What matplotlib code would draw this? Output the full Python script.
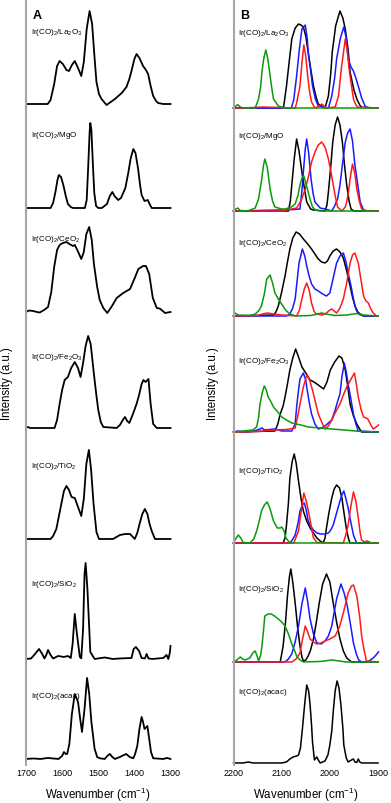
import numpy as np
import matplotlib.pyplot as plt

plt.rcParams['font.family'] = ['Liberation Sans', 'DejaVu Sans']
plt.rcParams['mathtext.default'] = 'regular'

# ---- panel A : (wavenumber, intensity) ----
a_la2o3 = [(1700,0),(1640,0),(1632,4),(1622,20),(1614,38),(1607,43),(1598,40),(1588,34),(1581,33),(1573,39),
           (1565,43),(1556,36),(1547,28),(1540,42),(1532,75),(1524,93),(1517,80),(1511,50),(1505,22),(1498,10),
           (1491,5),(1477,-1),(1454,5),(1435,11),(1422,17),(1414,25),(1408,33),(1400,45),(1394,50),(1386,46),
           (1376,38),(1368,34),(1362,30),(1355,18),(1348,8),(1340,3),(1334,1),(1320,0),(1300,0)]
a_mgo = [(1700,0),(1632,0),(1625,5),(1618,17),(1613,28),(1609,33),(1603,31),(1596,22),(1590,12),(1584,4),
         (1576,1),(1570,0),(1537,0),(1532,8),(1528,40),(1524,75),(1522,85),(1519,78),(1515,45),(1511,15),
         (1506,2),(1500,0),(1490,0),(1476,4),(1468,12),(1461,16),(1455,12),(1445,8),(1437,10),(1425,20),
         (1417,35),(1410,50),(1403,59),(1397,55),(1390,40),(1385,25),(1380,13),(1372,7),(1363,8),(1358,4),
         (1352,0),(1300,0)]
a_ceo2 = [(1700,0),(1692,1.5),(1680,1),(1670,0),(1662,-0.5),(1650,2),(1639,5),(1630,20),(1622,45),(1614,62),
          (1607,67),(1598,69),(1588,70),(1580,68),(1570,66),(1565,67),(1558,62),(1547,53),(1540,60),(1533,78),
          (1525,85),(1518,72),(1512,48),(1503,25),(1496,12),(1486,4),(1475,-1),(1462,6),(1449,14),(1431,19),
          (1412,23),(1399,34),(1389,43),(1376,46),(1368,46),(1359,38),(1349,14),(1338,4),(1329,3.3),(1315,-1),
          (1300,0)]
a_fe2o3 = [(1700,0),(1695,1),(1688,0),(1621,0),(1614,8),(1607,24),(1600,38),(1593,48),(1584,51),(1575,60),
           (1565,66),(1556,60),(1549,51),(1542,65),(1535,82),(1528,92),(1521,84),(1512,54),(1506,35),(1500,18),
           (1493,6),(1486,1),(1449,0),(1440,3),(1432,8),(1426,11),(1420,7),(1414,5),(1404,14),(1394,24),
           (1387,33),(1380,44),(1375,48),(1369,46),(1361,49),(1355,24),(1348,4),(1338,0),(1300,0)]
a_tio2 = [(1700,0),(1632,0),(1625,3),(1616,10),(1605,30),(1595,48),(1588,53),(1581,49),(1574,42),(1565,41),
          (1556,32),(1547,23),(1540,40),(1533,75),(1526,89),(1520,70),(1513,35),(1505,7),(1498,0),(1459,0),
          (1440,4),(1425,5),(1412,5),(1399,0),(1392,6),(1385,16),(1378,25),(1371,30),(1364,25),(1358,15),
          (1352,8),(1343,0),(1300,0)]
a_sio2 = [(1700,0),(1686,0.5),(1675,5),(1664,10),(1655,5),(1649,0.5),(1644,4),(1639,9),(1632,4),(1625,0.5),
          (1611,3),(1595,2),(1584,3),(1576,1),(1571,15),(1565,45),(1559,25),(1551,2),(1547,0.7),(1542,30),
          (1538,85),(1535,96),(1530,70),(1522,7),(1510,0),(1482,1.5),(1460,0),(1440,0.5),(1408,1),(1402,10),
          (1396,12),(1387,8),(1380,1),(1371,0.5),(1366,5),(1361,0.5),(1350,0),(1320,1),(1311,4),(1306,0),
          (1302,6),(1300,13)]
a_acac = [(1700,0),(1680,0.5),(1660,0),(1640,1),(1610,0),(1600,3),(1595,7),(1590,5),(1586,5),(1580,15),
          (1573,45),(1565,65),(1556,57),(1550,40),(1545,27),(1538,50),(1531,81),(1525,65),(1519,37),(1510,10),
          (1503,2),(1496,0.7),(1482,0),(1475,3),(1468,5),(1461,2),(1454,0),(1440,2),(1423,5),(1413,2),
          (1403,0.7),(1398,5),(1392,13),(1386,30),(1380,42),(1376,37),(1372,30),(1364,33),(1359,20),(1354,7),
          (1348,0.7),(1320,0),(1310,1),(1300,0)]

# ---- panel B : black / blue / red / green traces ----
b_la2o3_k = [(2200,0),(2100,0),(2096,1),(2090,22),(2084,48),(2079,69),(2072,80),(2065,84),(2060,83),(2055,81),
             (2050,72),(2046,59),(2040,40),(2034,22),(2028,10),(2024,4),(2010,0),(2003,12),(1998,35),(1995,56),
             (1988,82),(1979,97),(1973,90),(1968,79),(1962,58),(1958,36),(1950,18),(1944,9),(1938,3),(1934,0.7),
             (1900,0)]
b_la2o3_b = [(2200,0),(2080,0),(2075,8),(2069,32),(2063,60),(2058,79),(2051,83),(2047,70),(2045,56),(2040,38),
             (2036,22),(2030,9),(2024,2),(2003,0),(1996,12),(1990,30),(1986,49),(1978,70),(1971,81),(1966,70),
             (1962,49),(1956,41),(1951,37),(1946,30),(1941,22),(1934,10),(1927,2),(1920,0),(1900,0)]
b_la2o3_r = [(2200,0),(2180,0),(2140,1),(2100,0.5),(2072,0),(2069,5),(2062,22),(2058,45),(2054,63),(2050,52),
             (2046,32),(2042,16),(2038,6),(2031,0),(2022,2),(2017,4),(2012,2),(2007,0),(1989,1),(1982,12),
             (1976,40),(1968,69),(1964,58),(1960,39),(1955,22),(1951,9),(1946,3),(1941,0.7),(1900,0)]
b_la2o3_g = [(2200,0),(2195,2),(2191,3.3),(2186,1),(2180,0),(2155,0),(2148,9),(2144,20),(2141,36),(2137,50),
             (2133,58),(2129,50),(2124,32),(2120,18),(2117,9),(2107,2),(2093,0),(1900,0)]

b_mgo_k = [(2200,0),(2086,0),(2082,10),(2079,26),(2074,52),(2069,72),(2064,60),(2058,39),(2052,20),(2048,9),
           (2040,2),(2034,1),(2010,0),(2006,6),(2003,19),(1998,45),(1994,69),(1989,86),(1984,94),(1979,86),
           (1974,69),(1970,48),(1965,26),(1960,10),(1956,2),(1950,0),(1900,0)]
b_mgo_b = [(2200,0),(2150,0.5),(2135,0.7),(2100,1),(2075,1.5),(2062,2),(2058,20),(2055,39),(2051,62),(2048,72),
           (2044,58),(2039,32),(2035,18),(2031,9),(2020,3),(2010,2),(1996,0),(1990,5),(1984,12),(1979,26),
           (1973,50),(1968,69),(1963,78),(1958,82),(1953,70),(1948,46),(1942,26),(1937,9),(1930,1),(1920,0),
           (1900,0)]
b_mgo_r = [(2200,0),(2100,0),(2069,3),(2060,10),(2051,22),(2044,35),(2038,49),(2030,60),(2024,66),(2017,69),
           (2010,64),(2003,52),(1998,40),(1993,26),(1988,13),(1984,4),(1975,0),(1968,4),(1965,9),(1961,20),
           (1958,32),(1953,47),(1948,37),(1944,22),(1939,10),(1934,2),(1925,0),(1900,0)]
b_mgo_g = [(2200,0),(2195,2),(2191,3),(2186,0.5),(2170,0),(2155,3),(2148,12),(2142,30),(2138,45),(2135,52),
           (2130,44),(2124,22),(2119,10),(2114,4),(2100,2),(2093,2),(2080,4),(2072,7),(2066,16),(2062,26),
           (2058,33),(2054,35),(2050,28),(2045,19),(2040,10),(2036,4),(2030,1),(2020,0),(1900,0)]

b_ceo2_k = [(2200,0),(2117,1),(2112,4),(2107,10),(2100,24),(2093,40),(2088,54),(2083,67),(2077,78),(2070,84),
            (2063,82),(2055,77),(2046,72),(2038,67),(2031,62),(2024,57),(2017,54),(2010,53),(2005,55),(2000,60),
            (1993,65),(1986,67),(1979,64),(1972,58),(1965,45),(1958,30),(1953,19),(1948,10),(1942,4),(1937,2),
            (1930,0),(1900,0)]
b_ceo2_b = [(2200,0),(2090,0),(2083,2),(2077,8),(2072,17),(2068,35),(2064,53),(2057,67),(2052,60),(2048,50),
            (2043,40),(2038,32),(2031,27),(2024,25),(2015,22),(2007,20),(2000,23),(1993,38),(1986,53),(1979,60),
            (1972,63),(1967,55),(1962,43),(1956,30),(1951,17),(1946,7),(1941,2),(1930,0),(1900,0)]
b_ceo2_r = [(2200,0),(2150,0.5),(2140,2),(2130,3),(2117,2),(2100,1),(2069,0),(2063,6),(2058,17),(2053,27),
            (2048,33),(2043,26),(2038,13),(2033,5),(2029,2),(2015,1),(2007,3),(2000,6),(1996,7),(1991,5),
            (1986,3),(1979,8),(1972,17),(1965,33),(1958,53),(1953,61),(1948,63),(1941,53),(1936,38),(1930,20),
            (1925,15),(1920,13),(1915,7),(1910,3),(1903,0),(1900,0)]
b_ceo2_g = [(2200,0),(2197,3),(2190,1),(2166,0.5),(2155,2),(2148,5),(2142,10),(2136,22),(2131,37),(2124,41),
            (2119,33),(2114,23),(2107,17),(2100,12),(2092,6),(2083,2),(2070,0),(2040,0.5),(2025,2),(2017,3),
            (2008,2),(1990,0.5),(1965,1),(1944,2.5),(1930,1),(1900,0)]

b_fe2o3_k = [(2200,0),(2114,1),(2108,8),(2103,18),(2097,26),(2093,35),(2088,48),(2083,62),(2077,74),(2071,83),
             (2065,75),(2058,65),(2050,59),(2041,52),(2033,50),(2024,47),(2013,43),(2006,50),(1999,62),(1990,70),
             (1981,76),(1975,74),(1968,62),(1963,46),(1958,28),(1951,16),(1944,8),(1938,3),(1934,0),(1900,0)]
b_fe2o3_b = [(2200,0),(2190,1),(2180,0),(2160,0.5),(2145,3),(2141,4),(2135,2),(2114,3),(2100,1),(2079,1),
             (2072,8),(2069,25),(2065,42),(2062,53),(2055,59),(2050,52),(2048,45),(2043,30),(2038,18),(2031,8),
             (2024,3),(2017,4),(2010,6),(2003,9),(1996,12),(1989,22),(1983,32),(1979,38),(1975,55),(1970,69),
             (1966,60),(1962,48),(1956,32),(1951,18),(1946,8),(1941,1),(1900,0)]
b_fe2o3_r = [(2200,0),(2150,0.5),(2114,2),(2090,2.5),(2072,4),(2067,15),(2062,28),(2055,45),(2048,57),(2042,52),
             (2036,42),(2030,30),(2024,18),(2017,10),(2010,3),(2003,6),(1996,12),(1988,20),(1979,28),(1972,37),
             (1965,45),(1957,52),(1949,59),(1945,48),(1941,35),(1935,22),(1930,15),(1925,14),(1921,13),(1915,7),
             (1910,3),(1904,5),(1899,7)]
b_fe2o3_g = [(2200,0),(2190,0.5),(2160,2),(2152,5),(2148,14),(2145,28),(2140,40),(2136,46),(2132,42),(2128,35),
             (2122,30),(2117,25),(2108,20),(2100,15),(2090,12),(2079,9),(2060,7),(2045,5),(2020,4),(1996,3),
             (1970,2),(1941,0.7),(1900,0)]

b_tio2_k = [(2200,0),(2097,0),(2093,5),(2090,18),(2086,40),(2083,65),(2078,82),(2074,89),(2070,80),(2065,62),
            (2060,45),(2055,32),(2048,22),(2041,15),(2034,10),(2027,5),(2020,2),(2014,0),(2010,5),(2007,15),
            (2002,30),(1996,45),(1991,54),(1986,58),(1980,55),(1975,45),(1970,28),(1965,12),(1961,4),(1958,0),
            (1900,0)]
b_tio2_b = [(2200,0),(2083,0),(2078,3),(2072,8),(2066,20),(2062,32),(2057,38),(2053,40),(2049,33),(2045,22),
            (2040,17),(2034,13),(2027,10),(2020,9),(2010,9),(2003,10),(1998,13),(1993,18),(1986,30),(1979,42),
            (1975,48),(1971,52),(1967,45),(1962,35),(1957,22),(1951,8),(1947,3),(1944,0),(1900,0)]
b_tio2_r = [(2200,0),(2075,0),(2065,12),(2060,30),(2054,50),(2049,42),(2043,28),(2038,15),(2034,5),(2027,0.5),
            (1972,0),(1967,8),(1962,18),(1957,35),(1951,51),(1946,42),(1941,25),(1937,10),(1934,3),(1928,1),
            (1923,2),(1918,1),(1913,0),(1900,0)]
b_tio2_g = [(2200,0),(2197,3),(2190,8),(2185,5),(2180,0.5),(2166,0),(2158,4),(2152,12),(2146,23),(2142,32),
            (2136,38),(2130,41),(2124,34),(2117,22),(2109,15),(2103,15),(2100,16),(2095,12),(2091,5),(2083,0),
            (1900,0)]

b_sio2_k = [(2200,0),(2103,0),(2097,16),(2092,40),(2088,66),(2084,85),(2081,93),(2077,80),(2072,59),(2067,35),
            (2062,16),(2058,5),(2055,1),(2050,2),(2045,6),(2040,12),(2034,23),(2028,40),(2022,59),(2015,78),
            (2007,88),(2000,80),(1993,59),(1986,40),(1979,23),(1972,11),(1965,4),(1955,0),(1900,0)]
b_sio2_b = [(2200,0),(2093,0),(2086,3),(2079,8),(2072,20),(2065,36),(2058,58),(2051,74),(2046,60),(2041,43),
            (2034,28),(2027,19),(2018,18),(2010,21),(2003,26),(1996,36),(1991,50),(1986,63),(1977,78),(1971,70),
            (1965,59),(1958,40),(1951,19),(1945,8),(1940,2),(1934,0),(1920,0.5),(1910,4),(1904,7),(1899,10)]
b_sio2_r = [(2200,0),(2079,0),(2070,3),(2062,9),(2057,22),(2051,36),(2046,30),(2041,23),(2034,20),(2027,18),
            (2018,19),(2010,21),(2000,23),(1989,26),(1980,35),(1972,49),(1962,69),(1955,76),(1951,77),(1944,66),
            (1938,45),(1934,26),(1929,12),(1924,1),(1900,0)]
b_sio2_g = [(2200,0),(2193,2),(2186,5),(2181,3),(2176,2),(2166,4),(2160,9),(2155,11),(2151,6),(2148,1),
            (2144,6),(2141,16),(2138,30),(2135,46),(2128,48),(2122,48),(2115,46),(2107,43),(2100,40),(2093,36),
            (2086,28),(2079,18),(2072,10),(2069,6),(2062,2),(2055,0),(2020,0.5),(1996,2),(1980,1),(1968,0),
            (1900,0)]

b_acac_k = [(2200,0),(2180,0),(2169,1),(2160,0),(2100,0),(2090,1),(2083,4),(2076,6),(2069,7),(2065,8),
            (2061,15),(2057,34),(2052,60),(2048,78),(2044,72),(2041,58),(2038,38),(2036,21),(2032,3),(2027,6),
            (2024,3),(2020,0),(2010,2),(2004,8),(2000,18),(1996,32),(1993,51),(1989,72),(1985,82),(1981,75),
            (1977,58),(1973,35),(1971,18),(1966,5),(1962,1),(1955,3),(1951,4),(1948,1),(1944,0.5),(1941,4),
            (1938,1),(1934,0),(1900,0)]

labels = ['Ir(CO)$_2$/La$_2$O$_3$', 'Ir(CO)$_2$/MgO', 'Ir(CO)$_2$/CeO$_2$', 'Ir(CO)$_2$/Fe$_2$O$_3$',
          'Ir(CO)$_2$/TiO$_2$', 'Ir(CO)$_2$/SiO$_2$', 'Ir(CO)$_2$(acac)']

a_traces = [a_la2o3, a_mgo, a_ceo2, a_fe2o3, a_tio2, a_sio2, a_acac]
b_traces = [[b_la2o3_k, b_la2o3_b, b_la2o3_r, b_la2o3_g],
            [b_mgo_k, b_mgo_b, b_mgo_r, b_mgo_g],
            [b_ceo2_k, b_ceo2_b, b_ceo2_r, b_ceo2_g],
            [b_fe2o3_k, b_fe2o3_b, b_fe2o3_r, b_fe2o3_g],
            [b_tio2_k, b_tio2_b, b_tio2_r, b_tio2_g],
            [b_sio2_k, b_sio2_b, b_sio2_r, b_sio2_g],
            [b_acac_k]]

# stacking offsets and label heights (same units as intensity)
offsets_a = [661, 557, 453, 337, 226, 106, 6]
offsets_b = [657, 554, 449, 333, 222, 103, 2]
label_dy_a = [73, 74, 73, 71, 73, 75, 63]
label_dy_b = [76, 76, 73, 71, 72, 73, 71]
colors = ['black', '#1a1aff', '#ff1a1a', '#0b9a0b']

fig = plt.figure(figsize=(3.91, 8.04), dpi=100)
ax_a = fig.add_axes([0.0665, 0.0473, 0.3696, 0.9502])
ax_b = fig.add_axes([0.5972, 0.0473, 0.3696, 0.9502])

for i, tr in enumerate(a_traces):
    d = np.array(tr, dtype=float)
    ax_a.plot(d[:, 0], d[:, 1] + offsets_a[i], color='black', lw=1.3, clip_on=False)
    ax_a.text(1687, offsets_a[i] + label_dy_a[i], labels[i], fontsize=5.8, va='center', ha='left')

for i, group in enumerate(b_traces):
    for j, tr in enumerate(group):
        d = np.array(tr, dtype=float)
        ax_b.plot(d[:, 0], d[:, 1] + offsets_b[i], color=colors[j], lw=1.1, clip_on=False)
    ax_b.text(2190, offsets_b[i] + label_dy_b[i], labels[i], fontsize=5.8, va='center', ha='left')

ax_a.set_xlim(1700, 1300)
ax_a.set_xticks([1700, 1600, 1500, 1400, 1300])
ax_b.set_xlim(2200, 1900)
ax_b.set_xticks([2200, 2100, 2000, 1900])

for ax, letter, lx in [(ax_a, 'A', 0.074), (ax_b, 'B', 0.08)]:
    ax.set_ylim(0, 764)
    ax.set_yticks([])
    for s in ['top', 'right', 'bottom']:
        ax.spines[s].set_visible(False)
    ax.spines['left'].set_color('#a6a6a6')
    ax.spines['left'].set_linewidth(1.5)
    ax.tick_params(axis='x', length=0, pad=2.5, labelsize=6.5)
    ax.set_xlabel('Wavenumber (cm$^{-1}$)', fontsize=8.3, labelpad=5)
    ax.set_ylabel('Intensity (a.u.)', fontsize=8.3)
    ax.text(lx, 0.982, letter, transform=ax.transAxes, fontsize=9, fontweight='bold',
            ha='center', va='center')

ax_a.yaxis.set_label_coords(-0.087, 0.5)
ax_b.yaxis.set_label_coords(-0.097, 0.5)

fig.savefig('out.png', dpi=100)
